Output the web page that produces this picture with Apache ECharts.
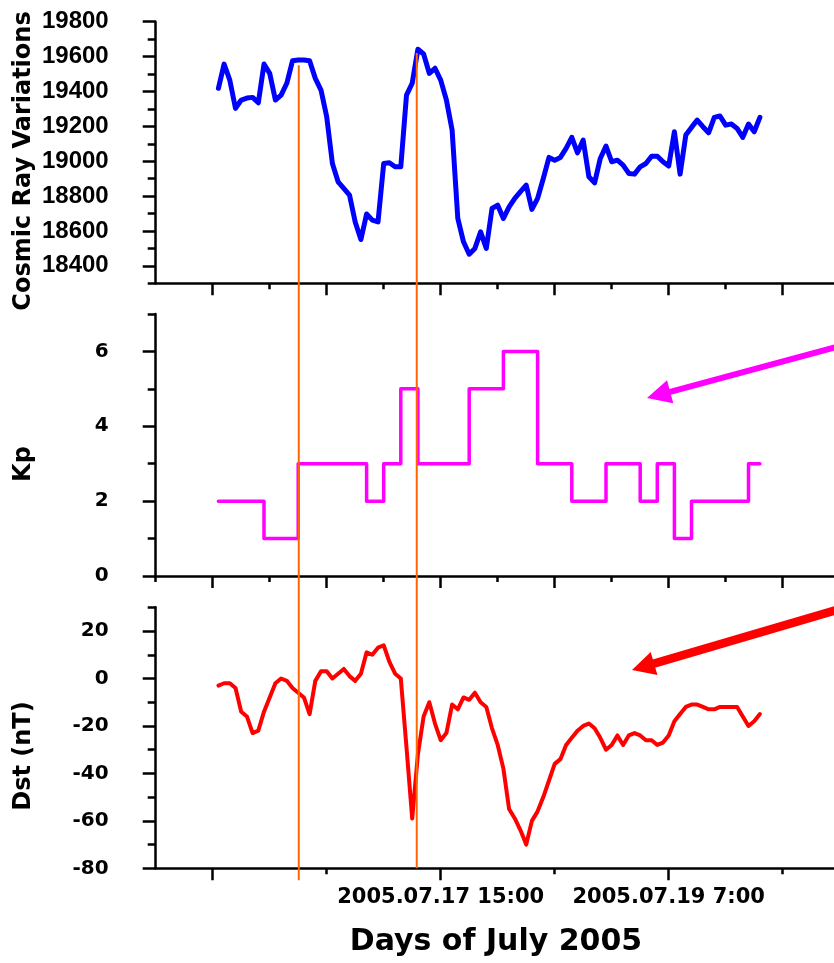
<!DOCTYPE html>
<html>
<head>
<meta charset="utf-8">
<script src="https://cdn.jsdelivr.net/npm/echarts@6/dist/echarts.min.js"></script>
<style>
  html, body { margin: 0; padding: 0; background: #fff; }
  #chart { width: 834px; height: 963px; }
</style>
</head>
<body>
<div id="chart"></div>
<script>
// Time axis: hours counted from 2005-07-15 13:00 UT
const startHour = 11;            // first hourly sample
const xMax = 119;

// Cosmic ray count rate, hourly from startHour
const cosmicRay = [
  19418, 19557, 19465, 19303, 19351, 19362, 19366, 19335, 19557, 19504,
  19351, 19379, 19447, 19576, 19580, 19580, 19576, 19475, 19408, 19255,
  18987, 18882, 18844, 18806, 18652, 18551, 18697, 18662, 18652, 18987,
  18991, 18968, 18968, 19379, 19447, 19642, 19615, 19504, 19533, 19465,
  19351, 19179, 18672, 18538, 18467, 18500, 18595, 18500, 18729, 18748,
  18672, 18738, 18787, 18825, 18863, 18724, 18787, 18901, 19022, 19006,
  19022, 19074, 19137, 19048, 19121, 18911, 18876, 19016, 19087, 18997,
  19006, 18978, 18930, 18926, 18968, 18987, 19029, 19029, 18997, 18972,
  19169, 18926, 19150, 19194, 19236, 19198, 19163, 19251, 19259, 19207,
  19213, 19188, 19137, 19213, 19169, 19251
];

// Kp index: hour at which each value starts, and the value
const kpHours  = [11, 19, 25, 37, 40, 43, 46, 55, 61, 67, 73, 79, 85, 88, 91, 94, 104, 106];
const kpValues = [ 2,  1,  3,  2,  3,  5,  3,  5,  6,  3,  2,  3,  2,  3,  1,  2,   3,   3];

// Dst index (nT), hourly from startHour
const dstValues = [
  -3, -2, -2, -4, -14, -16, -23, -22, -14, -8,
  -2, 0, -1, -4, -6, -8, -15, -1, 3, 3,
  0, 2, 4, 1, -1, 2, 11, 10, 13, 14,
  7, 2, 0, -29, -59, -32, -16, -10, -19, -26,
  -23, -11, -13, -8, -9, -6, -10, -12, -21, -28,
  -38, -55, -59, -64, -70, -60, -56, -50, -43, -36,
  -34, -28, -25, -22, -20, -19, -21, -25, -30, -28,
  -24, -28, -24, -23, -24, -26, -26, -28, -27, -24,
  -18, -15, -12, -11, -11, -12, -13, -13, -12, -12,
  -12, -12, -16, -20, -18, -15
];

// Event markers (hours), with where each marker starts (cosmic ray units) and ends (Dst units)
const eventHours  = [25.1, 45.8];
const eventTop    = [19550, 19620];
const eventBottom = [-85, -80];

// Date labels on the time axis
const dateTickHours  = [50, 90];
const dateTickLabels = ['2005.07.17 15:00', '2005.07.19 7:00'];

// Tick positions
const timeLongTicks    = [10, 30, 50, 70, 90, 110];
const timeShortTicks   = [20, 40, 60, 80, 100];
const timeShortTicksKp = [0, 20, 40, 60, 80, 100];
const dstTimeLong      = [10, 50, 90];
const dstTimeShort     = [30, 70, 110];

const crMajor  = [18400, 18600, 18800, 19000, 19200, 19400, 19600, 19800];
const crMinor  = [18300, 18500, 18700, 18900, 19100, 19300, 19500, 19700];
const kpMajor  = [0, 2, 4, 6];
const kpMinor  = [1, 3, 5, 7];
const dstMajor = [-80, -60, -40, -20, 0, 20];
const dstMinor = [-70, -50, -30, -10, 10, 30];

const pairs = (vals) => vals.map((v, i) => [startHour + i, v]);

const BLACK = '#000';
const axisLineStyle = { color: BLACK, width: 2.5 };
const tickLineStyle = { color: BLACK, width: 2.5 };

function timeAxes(gridIndex, longTicks, shortTicks, withLabels) {
  return [
    {
      type: 'value', gridIndex, min: 0, max: xMax, position: 'bottom',
      axisLine: { show: true, onZero: false, lineStyle: axisLineStyle },
      axisTick: { show: true, length: 12, customValues: longTicks, lineStyle: tickLineStyle },
      axisLabel: withLabels ? {
        show: true, customValues: dateTickHours, margin: 19,
        formatter: (v) => dateTickLabels[dateTickHours.indexOf(v)] || '',
        fontFamily: 'DejaVu Sans', fontWeight: 'bold', fontSize: 21, color: BLACK
      } : { show: false },
      splitLine: { show: false }
    },
    {
      type: 'value', gridIndex, min: 0, max: xMax, position: 'bottom',
      axisLine: { show: false, onZero: false },
      axisTick: { show: true, length: 6, customValues: shortTicks, lineStyle: tickLineStyle },
      axisLabel: { show: false },
      splitLine: { show: false }
    }
  ];
}

function valueAxes(gridIndex, min, max, major, minor, font) {
  return [
    {
      type: 'value', gridIndex, min, max, position: 'left',
      axisLine: { show: true, onZero: false, lineStyle: axisLineStyle },
      axisTick: { show: true, length: 13, customValues: major, lineStyle: tickLineStyle },
      axisLabel: Object.assign({
        show: true, customValues: major, margin: 47, color: BLACK, fontWeight: 'bold',
        formatter: (v) => String(v)
      }, font),
      splitLine: { show: false }
    },
    {
      type: 'value', gridIndex, min, max, position: 'left',
      axisLine: { show: false, onZero: false },
      axisTick: { show: true, length: 8, customValues: minor, lineStyle: tickLineStyle },
      axisLabel: { show: false },
      splitLine: { show: false }
    }
  ];
}

const chart = echarts.init(document.getElementById('chart'), null, { renderer: 'canvas' });

chart.setOption({
  animation: false,
  backgroundColor: '#fff',
  grid: [
    { left: 155.7, right: 0, top: 21.7, height: 261.6 },
    { left: 155.7, right: 0, top: 314, height: 262 },
    { left: 155.7, right: 0, top: 607.3, height: 261 }
  ],
  xAxis: [
    ...timeAxes(0, timeLongTicks, timeShortTicks, false),
    ...timeAxes(1, timeLongTicks, timeShortTicksKp, false),
    ...timeAxes(2, dstTimeLong, dstTimeShort, true)
  ],
  yAxis: [
    ...valueAxes(0, 18300, 19800, crMajor, crMinor, { fontFamily: 'Liberation Sans', fontSize: 24 }),
    ...valueAxes(1, 0, 7, kpMajor, kpMinor, { fontFamily: 'DejaVu Sans', fontSize: 20 }),
    ...valueAxes(2, -80, 30, dstMajor, dstMinor, { fontFamily: 'DejaVu Sans', fontSize: 20 })
  ],
  series: [
    {
      name: 'Cosmic Ray', type: 'line', xAxisIndex: 0, yAxisIndex: 0,
      data: pairs(cosmicRay), symbol: 'none',
      lineStyle: { color: '#0000ff', width: 5, join: 'round', cap: 'round' }
    },
    {
      name: 'Kp', type: 'line', xAxisIndex: 2, yAxisIndex: 2, step: 'end',
      data: kpHours.map((h, i) => [h, kpValues[i]]), symbol: 'none',
      lineStyle: { color: '#ff00ff', width: 3.5, join: 'round', cap: 'round' }
    },
    {
      name: 'Dst', type: 'line', xAxisIndex: 4, yAxisIndex: 4,
      data: pairs(dstValues), symbol: 'none',
      lineStyle: { color: '#ff0000', width: 4, join: 'round', cap: 'round' }
    }
  ]
});

// Arrow annotation pointing from the right edge into a panel
function arrow(tail, tip, shaftWidth, headLen, headWidth, color) {
  const dx = tip[0] - tail[0], dy = tip[1] - tail[1];
  const len = Math.hypot(dx, dy);
  const ux = dx / len, uy = dy / len;
  const px = -uy, py = ux;
  const base = [tip[0] - ux * headLen, tip[1] - uy * headLen];
  return {
    type: 'group', z: 200,
    children: [
      {
        type: 'line',
        shape: { x1: tail[0], y1: tail[1], x2: base[0] + ux * 2, y2: base[1] + uy * 2 },
        style: { stroke: color, lineWidth: shaftWidth }
      },
      {
        type: 'polygon',
        shape: { points: [
          tip,
          [base[0] + px * headWidth / 2, base[1] + py * headWidth / 2],
          [base[0] - px * headWidth / 2, base[1] - py * headWidth / 2]
        ] },
        style: { fill: color }
      }
    ]
  };
}

const toX = (h) => chart.convertToPixel({ xAxisIndex: 0 }, h);
const toYcr = (v) => chart.convertToPixel({ yAxisIndex: 0 }, v);
const toYdst = (v) => chart.convertToPixel({ yAxisIndex: 4 }, v);

const eventLines = eventHours.map((h, i) => ({
  type: 'line', z: 150,
  shape: { x1: toX(h), y1: toYcr(eventTop[i]), x2: toX(h), y2: toYdst(eventBottom[i]) },
  style: { stroke: '#ff6600', lineWidth: 2 }
}));

const titleFont = 'bold 24px "DejaVu Sans"';
chart.setOption({
  graphic: [
    ...eventLines,
    arrow([840, 346], [647, 398], 6, 24, 24, '#ff00ff'),
    arrow([840, 609], [632, 670], 8.5, 23, 24, '#ff0000'),
    {
      type: 'text', x: 24, y: 161, rotation: Math.PI / 2,
      style: { text: 'Cosmic Ray Variations', font: titleFont, fill: BLACK, align: 'center', verticalAlign: 'middle' }
    },
    {
      type: 'text', x: 24, y: 464, rotation: Math.PI / 2,
      style: { text: 'Kp', font: titleFont, fill: BLACK, align: 'center', verticalAlign: 'middle' }
    },
    {
      type: 'text', x: 24, y: 756, rotation: Math.PI / 2,
      style: { text: 'Dst (nT)', font: titleFont, fill: BLACK, align: 'center', verticalAlign: 'middle' }
    },
    {
      type: 'text', x: 496, y: 942,
      style: { text: 'Days of July 2005', font: 'bold 30px "DejaVu Sans"', fill: BLACK, align: 'center', verticalAlign: 'middle' }
    }
  ]
});
</script>
</body>
</html>
